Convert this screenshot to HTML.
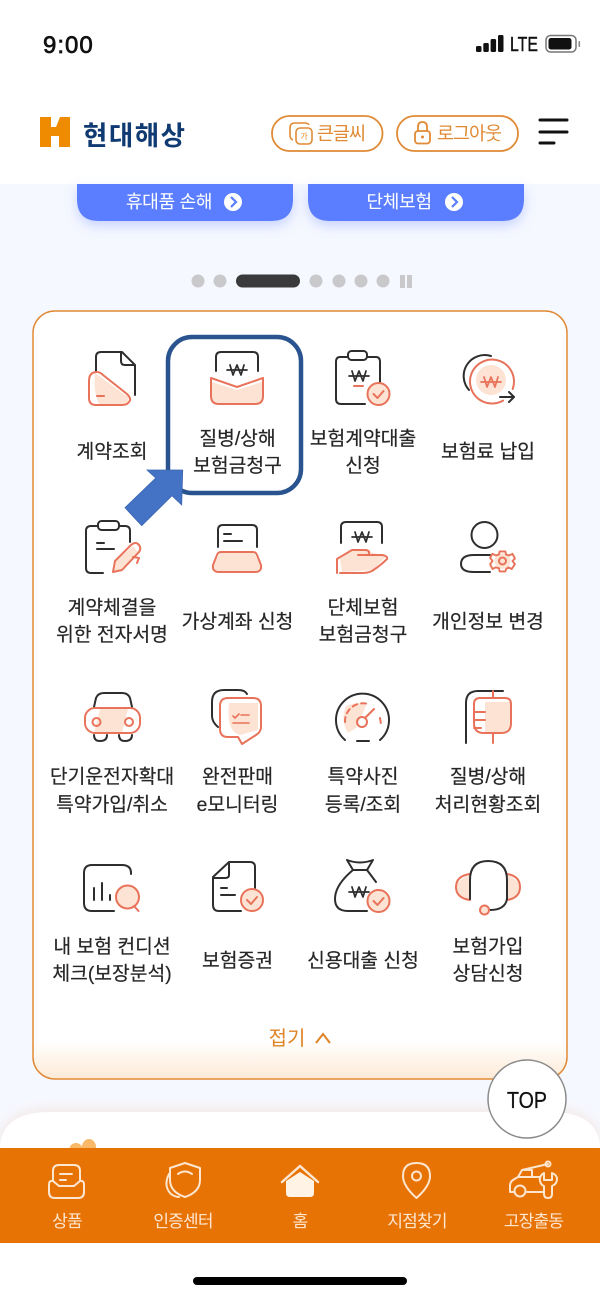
<!DOCTYPE html>
<html lang="ko"><head><meta charset="utf-8"><title>현대해상</title>
<style>
html,body{margin:0;padding:0;background:#fff}
svg{display:block;filter:blur(.35px)}
text{font-family:"Liberation Sans","Noto Sans CJK KR",sans-serif}
.k{fill:none;stroke:#2e2e2e;stroke-width:2;stroke-linecap:round;stroke-linejoin:round}
.o{fill:none;stroke:#e8735a;stroke-width:2;stroke-linecap:round;stroke-linejoin:round}
.f{fill:#fde3d4;stroke:none}
.l{font-size:19.3px;fill:#262626;text-anchor:middle;stroke:#262626;stroke-width:.2}
.w{fill:none;stroke:#fde6d0;stroke-width:2;stroke-linecap:round;stroke-linejoin:round}
.n{font-size:17px;fill:#fde6d0;text-anchor:middle}
</style></head>
<body>
<svg width="600" height="1298" viewBox="0 0 600 1298" xmlns="http://www.w3.org/2000/svg">
<defs>
<linearGradient id="g" x1="0" y1="0" x2="0" y2="1"><stop offset="0" stop-color="#fff"/><stop offset=".95" stop-color="#fff"/><stop offset="1" stop-color="#fdead6"/></linearGradient>
<filter id="s1" x="-20%" y="-50%" width="140%" height="220%"><feDropShadow dx="0" dy="5" stdDeviation="6" flood-color="#5a7eff" flood-opacity=".3"/></filter>
<filter id="s2" x="-10%" y="-30%" width="120%" height="160%"><feDropShadow dx="0" dy="-3" stdDeviation="6" flood-color="#e8a070" flood-opacity=".18"/></filter>
<g id="won"><path class="k" d="M-10 0H10M-7 -5L-4 5L0 -5L4 5L7 -5" style="stroke-width:1.7"/></g>
<g id="wono"><path class="o" d="M-10 0H10M-7 -5L-4 5L0 -5L4 5L7 -5" style="stroke-width:1.7"/></g>
<g id="chk"><circle r="11" fill="#fde3d4" stroke="#e8735a" stroke-width="2"/><path class="o" d="M-5 0L-1 4L5 -3"/></g>
</defs>

<rect width="600" height="1298" fill="#fff"/>
<rect y="184" width="600" height="964" fill="#f6f8ff"/>

<!-- status -->
<text x="43" y="53" font-size="24" letter-spacing="1" fill="#111" stroke="#111" stroke-width=".7">9:00</text>
<g fill="#111"><rect x="476" y="46" width="5.500" height="6" rx="1.500"/><rect x="483.300" y="43" width="5.500" height="9" rx="1.500"/><rect x="490.600" y="39" width="5.500" height="13" rx="1.500"/><rect x="498" y="35" width="5.500" height="17" rx="1.500"/></g>
<text x="510" y="51" font-size="20" fill="#111" stroke="#111" stroke-width=".4" textLength="28" lengthAdjust="spacingAndGlyphs">LTE</text>
<rect x="546" y="35.500" width="30" height="16.500" rx="4.500" fill="none" stroke="#777" stroke-width="1.500"/>
<rect x="548.500" y="38" width="23" height="11.500" rx="2.500" fill="#111"/>
<rect x="578.500" y="41" width="1.600" height="6" rx=".8" fill="#888"/>

<!-- header -->
<path fill="#ef8b00" d="M40 117H51V127H56L60 117H70V147H59V136H51V147H40Z"/>
<text x="83" y="145" font-size="26.500" font-weight="700" fill="#103a72" textLength="102" lengthAdjust="spacing">현대해상</text>
<rect x="272" y="116" width="110.500" height="35" rx="17.500" fill="#fff" stroke="#e08a35" stroke-width="1.800"/>
<rect x="397" y="116" width="121" height="35" rx="17.500" fill="#fff" stroke="#e08a35" stroke-width="1.800"/>
<g fill="none" stroke="#e08a35" stroke-width="1.600"><rect x="296" y="128" width="16" height="16" rx="4"/><path d="M293 140Q290 139 290 135V128Q290 123 295 123H305Q308 123 309 125"/></g>
<text x="304" y="139" font-size="8" fill="#e08a35" text-anchor="middle">가</text>
<text x="341" y="140" font-size="18.500" fill="#e08a35" text-anchor="middle" letter-spacing="-.9">큰글씨</text>
<g fill="none" stroke="#e08a35" stroke-width="1.800"><rect x="415" y="131" width="15" height="12.500" rx="3"/><path d="M418 131V127Q418 122 422.500 122Q427 122 427 127V131"/></g>
<circle cx="422.500" cy="137" r="1.500" fill="#e08a35"/>
<text x="469" y="140" font-size="18.500" fill="#e08a35" text-anchor="middle" letter-spacing="-1">로그아웃</text>
<path d="M540 120H567M540 132H567M540 143H554" stroke="#111" stroke-width="3" stroke-linecap="round"/>

<!-- blue buttons -->
<path d="M77 184H293V199Q293 221 271 221H99Q77 221 77 199Z" fill="#5a7eff" filter="url(#s1)"/>
<path d="M308 184H524V199Q524 221 502 221H330Q308 221 308 199Z" fill="#5a7eff" filter="url(#s1)"/>
<text x="169" y="208" font-size="18.200" fill="#fff" text-anchor="middle" letter-spacing="-.4">휴대품 손해</text>
<text x="399" y="208" font-size="18.200" fill="#fff" text-anchor="middle" letter-spacing="-.4">단체보험</text>
<circle cx="233" cy="202" r="9" fill="#fff"/><path d="M231 197L236 202L231 207" fill="none" stroke="#5a7eff" stroke-width="2.200"/>
<circle cx="454" cy="202" r="9" fill="#fff"/><path d="M452 197L457 202L452 207" fill="none" stroke="#5a7eff" stroke-width="2.200"/>

<!-- dots -->
<g fill="#c9c9cc"><circle cx="198" cy="281" r="6.500"/><circle cx="220" cy="281" r="6.500"/><circle cx="316" cy="281" r="6.500"/><circle cx="339" cy="281" r="6.500"/><circle cx="361" cy="281" r="6.500"/><circle cx="383" cy="281" r="6.500"/><rect x="400" y="275" width="5" height="13"/><rect x="407" y="275" width="5" height="13"/></g>
<rect x="236" y="274.500" width="64" height="13" rx="6.500" fill="#3a3a3c"/>

<!-- main card -->
<rect x="33" y="311" width="534" height="768" rx="22" fill="url(#g)" stroke="#e08a35" stroke-width="1.500"/>

<!-- row 1 icons -->
<path class="k" d="M96 371V357Q96 352 101 352H122L135 365V395M121 352V361Q121 365 125 365H135"/>
<path class="f" d="M95 373L128 397Q130 404 122 405H100Q93 395 95 373Z"/>
<path class="o" d="M89 381Q89 372 97 372Q100 372 103 375L127 394Q132 399 129 402Q127 405 122 405H96Q89 405 89 398Z"/>
<path class="o" d="M97 396H104"/>

<path class="k" d="M216 371V357Q216 352 221 352H253Q258 352 258 357V371"/>
<use href="#won" x="237" y="370"/>
<path class="f" d="M212 382L237 390L262 382V396Q262 404 254 404H220Q212 404 212 396Z"/>
<path class="o" d="M211 378L237 387L263 378V396Q263 404 255 404H219Q211 404 211 396Z"/>

<path class="k" d="M348 357H340Q336 357 336 362V399Q336 404 341 404H365M367 357H376Q380 357 380 362V382"/>
<rect x="348" y="351" width="19" height="9" rx="3.500" class="k"/>
<use href="#won" x="359" y="376"/>
<path class="o" d="M354 386H363"/>
<use href="#chk" x="378.500" y="394"/>

<path class="k" d="M469 390A21 21 0 0 1 491 356"/>
<circle cx="492" cy="381.500" r="22" fill="#fff"/>
<circle cx="491" cy="380" r="15" fill="#fde3d4"/>
<path class="o" d="M512.700 389A22 22 0 1 0 503 400.600"/>
<use href="#wono" x="491" y="382"/>
<path class="k" d="M500 397H514M509 392L514 397L509 402"/>

<!-- row 2 icons -->
<path class="k" d="M98 526H91Q86 526 86 531V568Q86 573 91 573H103M119 526H125Q130 526 130 531V542"/>
<rect x="98" y="521" width="21" height="9" rx="3.500" class="k"/>
<path class="k" d="M97 543H104M97 549H114"/>
<path class="f" d="M115 561L133 546L138 552L122 570L112 572Z"/>
<path class="o" d="M113 572L115 561L131 545Q136 541 139 545Q142 549 138 553L122 570ZM133 557L139 558L137 563"/>

<path class="k" d="M218 547V530Q218 525 223 525H252Q257 525 257 530V547M224 534H231M224 541H242"/>
<path class="f" d="M220 553H254L261 566Q261 572 255 572H218Q212 572 213 566Z"/>
<path class="o" d="M221 552H253Q256 552 257 555L261 565Q262 572 255 572H219Q212 572 213 565L217 555Q218 552 221 552Z"/>

<path class="k" d="M341 543V527Q341 522 346 522H377Q382 522 382 527V543"/>
<use href="#won" x="362" y="537"/>
<path class="f" d="M340 559L352 551H366L386 556L374 570L342 572Z"/>
<path class="o" d="M337 560V573M337 559L352 550H366Q371 551 368 555H358M368 555H382Q388 556 387 559Q380 566 372 571Q368 573 362 573H340"/>

<circle cx="484.500" cy="535" r="13" class="k"/>
<path class="k" d="M490 555H474Q461 555 461 564Q461 572 474 572H490"/>
<circle cx="502.500" cy="561" r="8" fill="#fde3d4"/>
<g transform="translate(502.500 561) scale(.8) translate(-502.500 -561)"><path class="o" style="stroke-width:2.400" d="M499 549H506L507 553L511 554L515 552L518 558L515 561L518 565L514 571L510 569L507 571L506 574H499L498 570L494 569L490 571L487 565L490 561L487 557L490 552L494 554L498 553Z"/></g>
<circle cx="502.500" cy="561" r="3.500" class="o"/>

<!-- highlight box and arrow -->
<rect x="168" y="337" width="133" height="156" rx="24" fill="none" stroke="#2a5490" stroke-width="4.500"/>
<path d="M182.700 470L147 470L155.700 478L125 507.700L141.700 525.700L172 495.700L181.700 505Z" fill="#4472c4" stroke="#3a65b0" stroke-width=".8"/>

<!-- row 3 icons -->
<path class="k" d="M94 707L96 698Q98 693 104 693H122Q128 693 130 698L132 707M94 735Q94 741 100 741Q107 741 107 735M119 735Q119 741 125 741Q132 741 132 735"/>
<path class="f" d="M100 709H128L122 733H94Z"/>
<rect x="85" y="708" width="55" height="25" rx="10" class="o"/>
<circle cx="96.500" cy="722" r="4" class="o"/><circle cx="129" cy="722" r="4" class="o"/>

<path class="k" d="M218 727Q212 722 212 716V702Q212 690 224 690H238Q245 690 247 694"/>
<path class="f" d="M229 703H258V730L240 735Q226 732 229 703Z"/>
<path class="o" d="M220 706Q220 698 228 698H253Q261 698 261 706V727Q261 732 256 735L242 744L238 737H228Q220 737 220 729Z"/>
<path class="o" d="M233 716L235 718L239 714M241 715H249M233 723H249" style="stroke-width:1.600"/>

<path class="k" d="M345 740A26.500 26.500 0 1 1 380 740M357 741H369"/>
<path class="f" d="M346 706Q362 700 366 706L356 728L348 733Q340 720 346 706Z"/>
<circle cx="362" cy="722" r="5" class="o"/>
<path class="o" d="M365 718L374 709"/>
<path class="o" d="M345 722A18 18 0 0 1 368 704M380 718L381 724" stroke-dasharray="5 4"/>

<path class="k" d="M466 743V703Q466 691 478 691H503"/>
<path class="f" d="M485 702H510V724Q508 732 500 732H485Z"/>
<path class="o" d="M480 698H505Q511 698 511 704V723Q511 733 501 733H484Q474 733 474 723V704Q474 698 480 698ZM493 691V698M493 733V743M474 712H485M474 720H485M474 728H481"/>

<!-- row 4 icons -->
<path class="k" d="M131 874V873Q131 865 122 865H92Q84 865 84 873V903Q84 911 92 911H114M94 888V900M102 883V900M110 895V900"/>
<circle cx="127.500" cy="897" r="11.500" fill="#fde3d4" stroke="#e8735a" stroke-width="2"/>
<path class="o" d="M134 906L138.500 911"/>

<path class="k" d="M255 888V867Q255 862 250 862H229L213 877V905Q213 911 219 911H241M229 862V875Q229 878 225 878H213M221 888H227M221 895H235"/>
<use href="#chk" x="252" y="900"/>

<path class="k" d="M347 860Q360 865 373 860L367 870L376 882M347 860L353 870H367M353 870Q335 885 335 899Q335 911 348 911H367"/>
<use href="#won" x="359" y="892"/>
<use href="#chk" x="378.500" y="901"/>

<path class="f" d="M470 875Q456 880 456 888Q456 896 470 899ZM507 875Q520 880 520 888Q520 896 507 899Z"/>
<path class="o" d="M470 874Q456 876 456 887Q456 898 470 900M507 874Q520 876 520 887Q520 898 507 900"/>
<path class="k" d="M470 899V880Q470 861 488 861Q507 861 507 880V899Q505 910 490 910"/>
<circle cx="484.500" cy="910" r="4.500" fill="#fde3d4" stroke="#e8735a" stroke-width="2"/>

<!-- labels -->
<text class="l" x="112" y="458">계약조회</text>
<text class="l" x="237.500" y="445">질병/상해</text>
<text class="l" x="237.500" y="472">보험금청구</text>
<text class="l" x="363" y="445">보험계약대출</text>
<text class="l" x="363" y="472">신청</text>
<text class="l" x="488" y="458">보험료 납입</text>

<text class="l" x="112" y="614">계약체결을</text>
<text class="l" x="112" y="641">위한 전자서명</text>
<text class="l" x="237.500" y="628">가상계좌 신청</text>
<text class="l" x="363" y="614">단체보험</text>
<text class="l" x="363" y="641">보험금청구</text>
<text class="l" x="488" y="628">개인정보 변경</text>

<text class="l" x="112" y="783">단기운전자확대</text>
<text class="l" x="112" y="811">특약가입/취소</text>
<text class="l" x="237.500" y="783">완전판매</text>
<text class="l" x="237.500" y="811">e모니터링</text>
<text class="l" x="363" y="783">특약사진</text>
<text class="l" x="363" y="811">등록/조회</text>
<text class="l" x="488" y="783">질병/상해</text>
<text class="l" x="488" y="811">처리현황조회</text>

<text class="l" x="112" y="953">내 보험 컨디션</text>
<text class="l" x="112" y="980">체크(보장분석)</text>
<text class="l" x="237.500" y="967">보험증권</text>
<text class="l" x="363" y="967">신용대출 신청</text>
<text class="l" x="488" y="953">보험가입</text>
<text class="l" x="488" y="980">상담신청</text>

<text x="287" y="1045" font-size="20" fill="#df8326" text-anchor="middle">접기</text>
<path d="M316 1043L323 1034L330 1043" fill="none" stroke="#df8326" stroke-width="2"/>

<!-- lower card -->
<path d="M0 1148V1150Q0 1112 50 1112H550Q600 1112 600 1150V1148Z" fill="#fff" filter="url(#s2)"/>
<ellipse cx="76" cy="1149" rx="6.500" ry="6" fill="#f9b968"/>
<ellipse cx="89" cy="1147" rx="7" ry="8" fill="#f9b968"/>

<!-- TOP -->
<circle cx="527" cy="1099" r="39" fill="#fff" stroke="#8a8a8a" stroke-width="1.500"/>
<text x="507" y="1108" font-size="23" fill="#111" stroke="#111" stroke-width=".3" textLength="40" lengthAdjust="spacingAndGlyphs">TOP</text>

<!-- bottom nav -->
<rect y="1148" width="600" height="95" fill="#e87305"/>
<g>
<path class="w" d="M53 1180V1171Q53 1165 59 1165H74Q80 1165 80 1171V1180M60 1174H72M60 1180H66"/>
<path class="w" d="M49 1185Q49 1180 53 1181L59 1186H74L80 1181Q84 1180 84 1185V1192Q84 1198 78 1198H55Q49 1198 49 1192Z"/>
<path class="w" d="M185 1163L200 1168V1180Q200 1192 185 1197Q170 1192 170 1180V1168ZM178 1174Q185 1169 192 1174M169 1174Q163 1186 171 1194Q175 1197 179 1197"/>
<path d="M282 1182L300 1166L318 1182" fill="none" stroke="#fde6d0" stroke-width="2.500" stroke-linecap="round" stroke-linejoin="round"/>
<path d="M286 1181L300 1172L314 1181V1193Q314 1197 310 1197H290Q286 1197 286 1193Z" fill="#fff3e6"/>
<path class="w" d="M416.500 1198Q403 1186 403 1176Q403 1163 416.500 1163Q430 1163 430 1176Q430 1186 416.500 1198Z"/>
<circle cx="416.500" cy="1176" r="4.500" class="w"/>
<path class="w" d="M522 1170L518 1177H540M522 1170L548 1164M518 1177L513 1180Q510 1182 510 1186V1192H514M527 1192H543M524 1170H532V1177"/>
<circle cx="520" cy="1191" r="5.500" class="w"/>
<circle cx="548" cy="1164" r="2.500" class="w"/>
<path class="w" d="M544 1173Q539 1176 540 1181Q541 1185 544 1186V1194Q544 1198 548 1198Q552 1198 552 1194V1186Q557 1184 557 1179Q557 1175 552 1173V1180H544Z"/>
</g>
<text class="n" x="67" y="1227" letter-spacing="-.8">상품</text>
<text class="n" x="183" y="1227" letter-spacing="-.8">인증센터</text>
<text class="n" x="300" y="1227" letter-spacing="-.8">홈</text>
<text class="n" x="417" y="1227" letter-spacing="-.8">지점찾기</text>
<text class="n" x="533.500" y="1227" letter-spacing="-.8">고장출동</text>

<rect x="193" y="1277" width="214" height="8" rx="4" fill="#000"/>
</svg>
</body></html>
